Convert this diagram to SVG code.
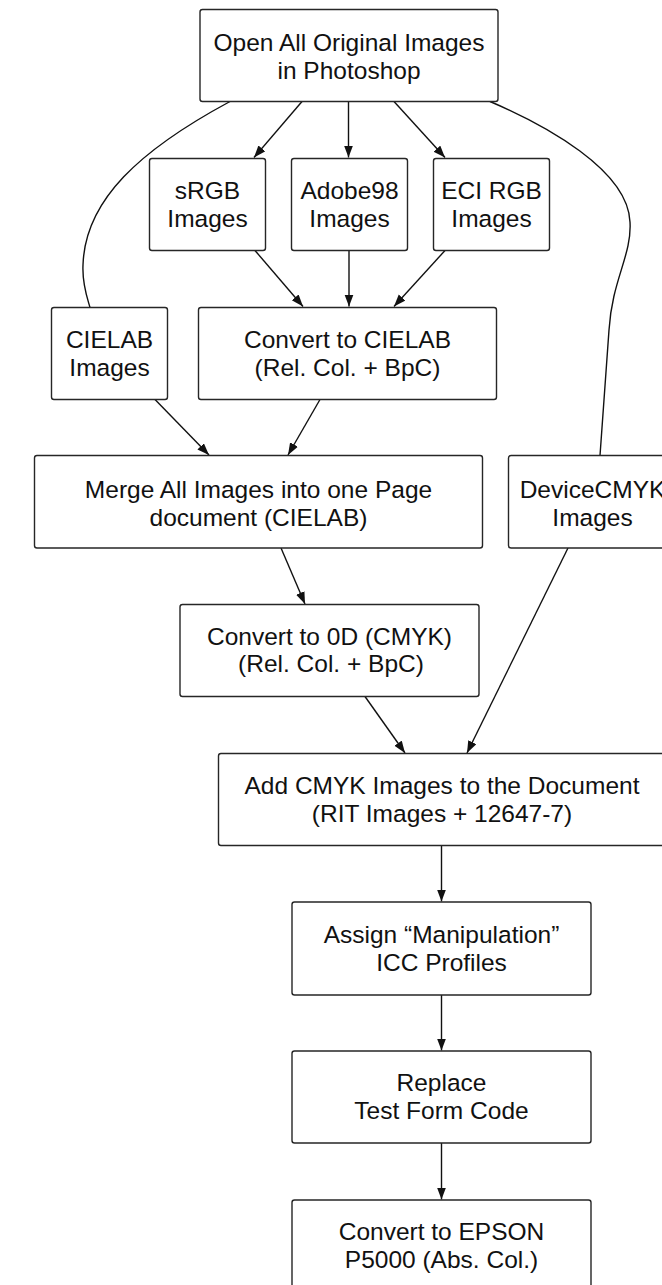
<svg xmlns="http://www.w3.org/2000/svg" width="662" height="1285" viewBox="0 0 662 1285">
<defs>
<style>
.box{fill:#fff;stroke:#262626;stroke-width:1.4}
.t{font-family:"Liberation Sans",Arial,Helvetica,sans-serif;font-size:24.5px;fill:#111;text-anchor:middle}
.c{fill:none;stroke:#111;stroke-width:1.4}
</style>
<marker id="ah" markerUnits="userSpaceOnUse" markerWidth="12" markerHeight="10" refX="12" refY="4.5" orient="auto">
<path d="M0,0 L12,4.5 L0,9 z" fill="#111"/>
</marker>
</defs>
<rect width="662" height="1285" fill="#fff"/>

<g id="connectors">
<path class="c" d="M230,101.5 C140,150 85,200 83,265 C82,285 88,300 90,307.5"/>
<path class="c" d="M302,101.5 L254,157.5" marker-end="url(#ah)"/>
<path class="c" d="M348.5,101.5 L348.5,157.5" marker-end="url(#ah)"/>
<path class="c" d="M394,101.5 L445,157.5" marker-end="url(#ah)"/>
<path class="c" d="M490,101.5 C545,125 628,170 630,222 C632,255 612,280 609,330 L600,455.5"/>
<path class="c" d="M255,250.5 L303,306.5" marker-end="url(#ah)"/>
<path class="c" d="M349,250.5 L349,306.5" marker-end="url(#ah)"/>
<path class="c" d="M445,250.5 L394,306.5" marker-end="url(#ah)"/>
<path class="c" d="M155,399.5 L209,455" marker-end="url(#ah)"/>
<path class="c" d="M320,399.5 L288,455" marker-end="url(#ah)"/>
<path class="c" d="M281,548 L305,604" marker-end="url(#ah)"/>
<path class="c" d="M365,696.5 L405,753" marker-end="url(#ah)"/>
<path class="c" d="M568,548 L467,753" marker-end="url(#ah)"/>
<path class="c" d="M441.5,845.5 L441.5,901.5" marker-end="url(#ah)"/>
<path class="c" d="M441.5,995 L441.5,1050.5" marker-end="url(#ah)"/>
<path class="c" d="M441.5,1143 L441.5,1199.5" marker-end="url(#ah)"/>
</g>

<g id="open">
<rect class="box" x="200" y="9.5" width="298" height="92" rx="2.5"/>
<text class="t" x="349" y="50.5">Open All Original Images</text>
<text class="t" x="349" y="78.5">in Photoshop</text>
</g>
<g id="srgb">
<rect class="box" x="149.5" y="158.5" width="116" height="92" rx="2.5"/>
<text class="t" x="207.5" y="198.5">sRGB</text>
<text class="t" x="207.5" y="226.5">Images</text>
</g>
<g id="adobe98">
<rect class="box" x="291.5" y="158.5" width="116" height="92" rx="2.5"/>
<text class="t" x="349.5" y="198.5">Adobe98</text>
<text class="t" x="349.5" y="226.5">Images</text>
</g>
<g id="ecirgb">
<rect class="box" x="433.5" y="158.5" width="116" height="92" rx="2.5"/>
<text class="t" x="491.5" y="198.5">ECI RGB</text>
<text class="t" x="491.5" y="226.5">Images</text>
</g>
<g id="cielab">
<rect class="box" x="51.5" y="307.5" width="116" height="92" rx="2.5"/>
<text class="t" x="109.5" y="347.5">CIELAB</text>
<text class="t" x="109.5" y="376">Images</text>
</g>
<g id="convcielab">
<rect class="box" x="198.5" y="307.5" width="298" height="92" rx="2.5"/>
<text class="t" x="347.5" y="347.5">Convert to CIELAB</text>
<text class="t" x="347.5" y="376">(Rel. Col. + BpC)</text>
</g>
<g id="merge">
<rect class="box" x="34.5" y="455.5" width="448" height="92.5" rx="2.5"/>
<text class="t" x="258.5" y="498">Merge All Images into one Page</text>
<text class="t" x="258.5" y="525.5">document (CIELAB)</text>
</g>
<g id="devicecmyk">
<rect class="box" x="508.5" y="455.5" width="168" height="92.5" rx="2.5"/>
<text class="t" x="592.5" y="498">DeviceCMYK</text>
<text class="t" x="592.5" y="525.5">Images</text>
</g>
<g id="conv0d">
<rect class="box" x="180" y="604.5" width="299" height="92" rx="2.5"/>
<text class="t" x="329.5" y="644.5">Convert to 0D (CMYK)</text>
<text class="t" x="331" y="672">(Rel. Col. + BpC)</text>
</g>
<g id="addcmyk">
<rect class="box" x="218.5" y="753.5" width="447" height="92" rx="2.5"/>
<text class="t" x="442" y="793.5">Add CMYK Images to the Document</text>
<text class="t" x="442" y="821.5">(RIT Images + 12647-7)</text>
</g>
<g id="assign">
<rect class="box" x="292" y="902" width="299" height="93" rx="2.5"/>
<text class="t" x="441.5" y="943">Assign “Manipulation”</text>
<text class="t" x="441.5" y="971">ICC Profiles</text>
</g>
<g id="replace">
<rect class="box" x="292" y="1051" width="299" height="92" rx="2.5"/>
<text class="t" x="441.5" y="1091">Replace</text>
<text class="t" x="441.5" y="1118.5">Test Form Code</text>
</g>
<g id="epson">
<rect class="box" x="292" y="1200" width="299" height="93" rx="2.5"/>
<text class="t" x="441.5" y="1239.5">Convert to EPSON</text>
<text class="t" x="441.5" y="1267.5">P5000 (Abs. Col.)</text>
</g>
</svg>
